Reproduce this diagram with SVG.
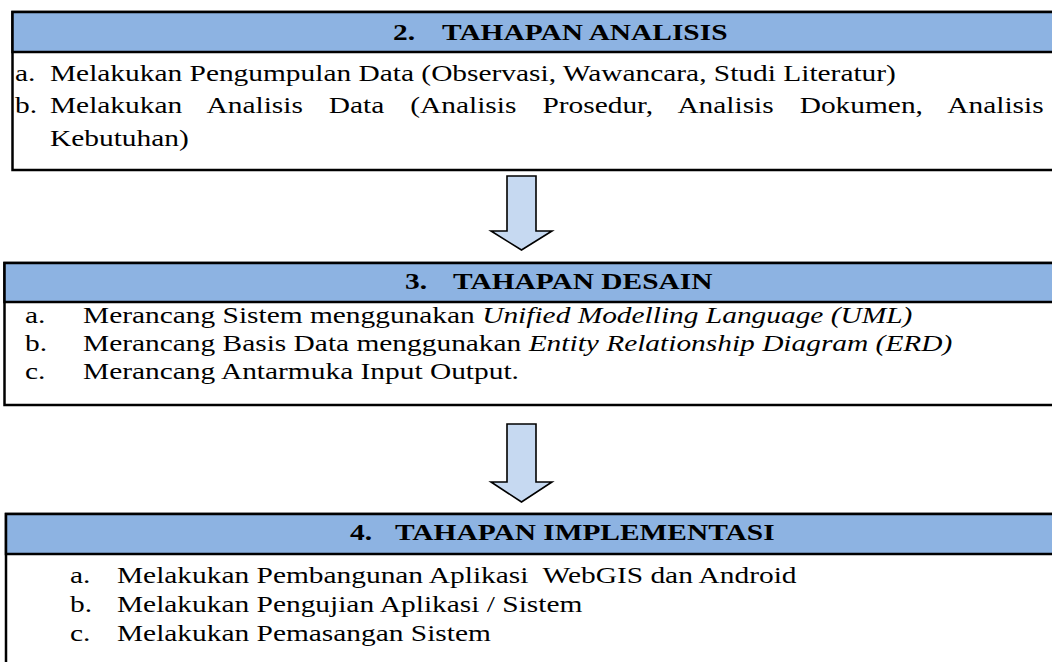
<svg xmlns="http://www.w3.org/2000/svg" width="1052" height="662" viewBox="0 0 1052 662">
<style>
.box{fill:#ffffff;stroke:#000000;stroke-width:2.5}
.hdr{fill:#8db3e2;stroke:#000000;stroke-width:2.5}
.arrow{fill:#c6d9f1;stroke:#000000;stroke-width:1.6;stroke-linejoin:miter}
text{font-family:"Liberation Serif","Times New Roman",serif;font-size:24px;fill:#000000}
.b{font-weight:bold}
.i{font-style:italic}
</style>
<rect width="1052" height="662" fill="#ffffff"/>
<g id="tahap-analisis">
<rect class="box" x="12.5" y="12" width="1060" height="158"/>
<rect class="hdr" x="12.5" y="12" width="1060" height="40"/>
<g transform="scale(1.225 1)">
<text class="b" x="320.8" y="40">2.</text>
<text class="b" x="360.8" y="40">TAHAPAN ANALISIS</text>
<text x="12.2" y="81">a.</text>
<text x="40.8" y="81">Melakukan Pengumpulan Data (Observasi, Wawancara, Studi Literatur)</text>
<text x="12.2" y="113">b.</text>
<text x="40.8" y="113" word-spacing="15.2">Melakukan Analisis Data (Analisis Prosedur, Analisis Dokumen, Analisis</text>
<text x="40.8" y="146">Kebutuhan)</text>
</g>
</g>
<g id="tahap-desain">
<rect class="box" x="4.5" y="263" width="1060" height="142"/>
<rect class="hdr" x="4.5" y="263" width="1060" height="39"/>
<g transform="scale(1.225 1)">
<text class="b" x="330.6" y="289">3.</text>
<text class="b" x="369.8" y="289">TAHAPAN DESAIN</text>
<text x="20.4" y="323">a.</text>
<text x="67.8" y="323">Merancang Sistem menggunakan <tspan class="i">Unified Modelling Language (UML)</tspan></text>
<text x="20.4" y="351">b.</text>
<text x="67.8" y="351">Merancang Basis Data menggunakan <tspan class="i">Entity Relationship Diagram (ERD)</tspan></text>
<text x="20.4" y="379">c.</text>
<text x="67.8" y="379">Merancang Antarmuka Input Output.</text>
</g>
</g>
<g id="tahap-implementasi">
<rect class="box" x="6" y="514" width="1060" height="200"/>
<rect class="hdr" x="6" y="514" width="1060" height="40"/>
<g transform="scale(1.225 1)">
<text class="b" x="285.7" y="540">4.</text>
<text class="b" x="322.4" y="540">TAHAPAN IMPLEMENTASI</text>
<text x="57.1" y="583">a.</text>
<text x="95.5" y="583" xml:space="preserve">Melakukan Pembangunan Aplikasi  WebGIS dan Android</text>
<text x="57.1" y="612">b.</text>
<text x="95.5" y="612">Melakukan Pengujian Aplikasi / Sistem</text>
<text x="57.1" y="641">c.</text>
<text x="95.5" y="641">Melakukan Pemasangan Sistem</text>
</g>
</g>
<g id="connectors">
<polygon class="arrow" points="507,176 536,176 536,231 552,231 521.5,250 491,231 507,231"/>
<polygon class="arrow" points="507,424 536,424 536,482 552,482 521.5,502 491,482 507,482"/>
</g>
</svg>
